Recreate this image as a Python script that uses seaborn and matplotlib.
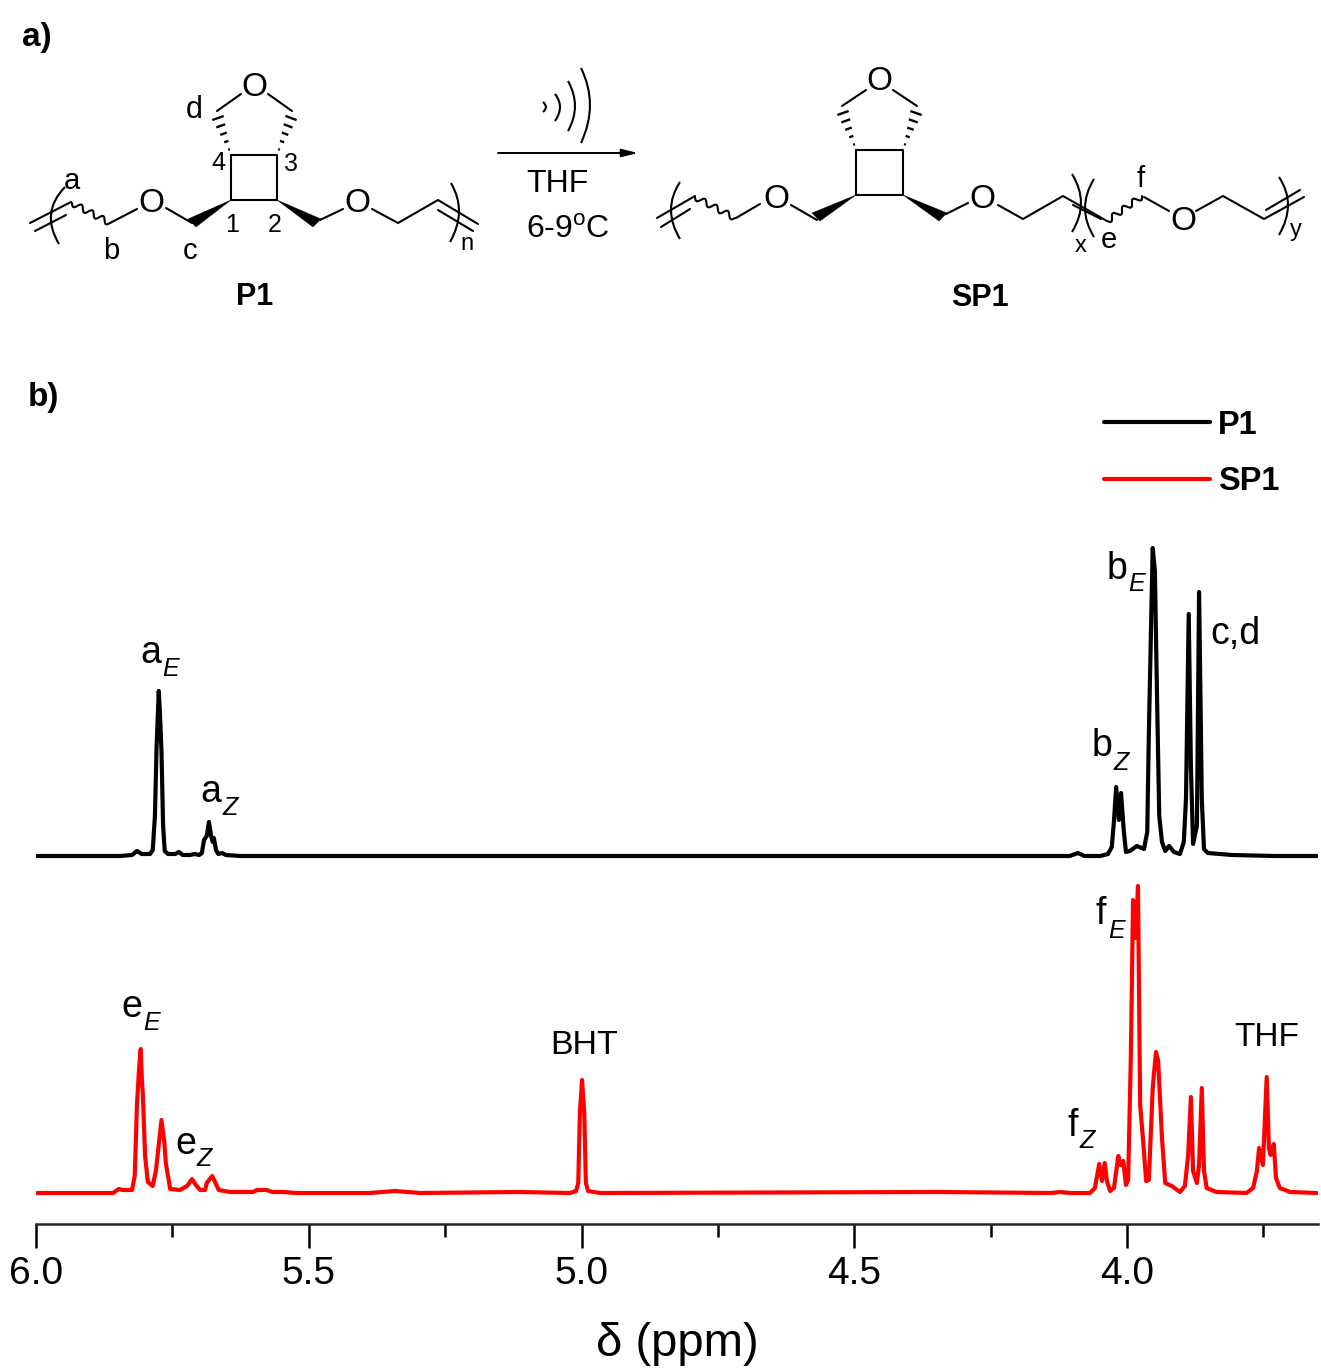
import numpy as np
import pandas as pd
import matplotlib
matplotlib.use("Agg")
import matplotlib.pyplot as plt
from matplotlib.path import Path
from matplotlib.patches import PathPatch, Polygon
import seaborn as sns

# P1 trace, shift in ppm and intensity
p1_ppm = [6.000, 5.846, 5.824, 5.815, 5.806, 5.791, 5.786, 5.782, 5.779, 5.776, 5.775, 5.773, 5.770,
          5.767, 5.764, 5.758, 5.745, 5.738, 5.731, 5.718, 5.709, 5.701, 5.696, 5.692, 5.687, 5.683,
          5.679, 5.676, 5.674, 5.670, 5.666, 5.659, 5.652, 5.626, 4.105, 4.090, 4.078, 4.049, 4.035,
          4.028, 4.024, 4.020, 4.015, 4.011, 4.006, 4.002, 3.995, 3.982, 3.969, 3.963, 3.960, 3.956,
          3.953, 3.949, 3.945, 3.941, 3.936, 3.930, 3.923, 3.914, 3.903, 3.896, 3.892, 3.887, 3.883,
          3.879, 3.872, 3.868, 3.863, 3.859, 3.852, 3.808, 3.729, 3.652]
p1_int = [0, 0, 1, 5, 2, 2, 6, 40, 109, 150, 165, 145, 105,
          30, 5, 2, 2, 4, 1, 1, 2, 1, 3, 16, 20, 34,
          20, 14, 18, 6, 2, 3, 1, 0, 0, 3, 0, 0, 2,
          9, 35, 69, 36, 63, 25, 4, 5, 10, 7, 24, 124, 230,
          308, 285, 157, 40, 14, 5, 10, 4, 2, 14, 57, 242, 90,
          12, 30, 264, 57, 7, 3, 1, 0, 0]

# SP1 trace
sp1_ppm = [5.998, 5.859, 5.848, 5.841, 5.824, 5.819, 5.815, 5.811, 5.808, 5.806, 5.804, 5.800, 5.795,
           5.786, 5.780, 5.775, 5.770, 5.765, 5.762, 5.754, 5.736, 5.723, 5.714, 5.707, 5.699, 5.690,
           5.687, 5.677, 5.670, 5.665, 5.644, 5.602, 5.595, 5.586, 5.577, 5.567, 5.547, 5.522, 5.388,
           5.342, 5.296, 5.115, 5.021, 5.010, 5.006, 5.003, 4.999, 4.995, 4.992, 4.988, 4.966, 4.346,
           4.141, 4.122, 4.104, 4.068, 4.059, 4.051, 4.046, 4.041, 4.037, 4.031, 4.024, 4.016, 4.012,
           4.007, 4.002, 3.998, 3.993, 3.989, 3.984, 3.980, 3.976, 3.971, 3.965, 3.960, 3.953, 3.947,
           3.943, 3.936, 3.930, 3.918, 3.903, 3.894, 3.888, 3.883, 3.879, 3.872, 3.868, 3.863, 3.859,
           3.854, 3.836, 3.781, 3.769, 3.762, 3.758, 3.751, 3.744, 3.740, 3.737, 3.731, 3.727, 3.720,
           3.701, 3.652]
sp1_int = [0, 0, 4, 3, 3, 17, 87, 125, 144, 115, 97, 37, 11,
           7, 23, 48, 73, 52, 30, 4, 3, 7, 14, 8, 3, 3,
           10, 17, 9, 3, 1, 1, 3, 3, 3, 1, 1, 0, 0,
           2, 0, 1, 0, 2, 10, 80, 113, 80, 10, 2, 0, 1,
           0, 1, 0, 0, 5, 29, 12, 30, 12, 2, 5, 37, 28,
           32, 8, 13, 138, 293, 255, 307, 88, 55, 12, 13, 105, 141,
           132, 55, 10, 7, 1, 7, 38, 96, 22, 10, 28, 105, 22,
           5, 1, 0, 5, 22, 45, 28, 116, 45, 38, 49, 15, 5,
           1, 0]

series_names = ["P1", "SP1"]
series_colors = ["black", "#ff0000"]
stack_offsets = [368, 31]
major_ticks = [6.0, 5.5, 5.0, 4.5, 4.0]
minor_ticks = [5.75, 5.25, 4.75, 4.25, 3.75]

# peak labels: base text, x, baseline y, subscript, x, baseline y (figure pixels)
peak_labels = [("a", 140, 663, "E", 162, 676), ("a", 200, 802, "Z", 222, 815),
               ("b", 1107, 579, "E", 1128, 591), ("b", 1092, 756, "Z", 1113, 770),
               ("e", 121, 1017, "E", 143, 1030), ("e", 175, 1154, "Z", 196, 1166),
               ("f", 1096, 924, "E", 1108, 938), ("f", 1067, 1136, "Z", 1079, 1148)]

W, H = 1321, 1371
sns.set_theme(style="ticks")
plt.rcParams["font.family"] = ["Liberation Sans", "DejaVu Sans"]
plt.rcParams["mathtext.fontset"] = "custom"
plt.rcParams["mathtext.rm"] = "Liberation Sans"

fig = plt.figure(figsize=(W / 100, H / 100), dpi=100, facecolor="white")
ax = fig.add_axes([36 / W, (H - 1224) / H, (1318 - 36) / W, 824 / H])

for name, color, off, ppm, vals in zip(series_names, series_colors, stack_offsets,
                                       [p1_ppm, sp1_ppm], [p1_int, sp1_int]):
    df = pd.DataFrame({"ppm": ppm, "intensity": np.array(vals) + off})
    sns.lineplot(data=df, x="ppm", y="intensity", color=color, lw=3.0, label=name,
                 estimator=None, sort=False, ax=ax, solid_joinstyle="round")

ax.set_xlim(6.0, 3.65)
ax.set_ylim(0, 824)
ax.patch.set_visible(False)
sns.despine(ax=ax, left=True)
ax.spines["bottom"].set_linewidth(1.8)
ax.set_yticks([])
ax.set_ylabel("")
ax.set_xticks(major_ticks)
ax.set_xticklabels([f"{t:.1f}" for t in major_ticks])
ax.set_xticks(minor_ticks, minor=True)
ax.tick_params(axis="x", which="major", length=17, width=1.8, labelsize=28, pad=6, color="black", labelcolor="black")
ax.tick_params(axis="x", which="minor", length=9, width=1.8, color="black")
ax.set_xlabel("δ (ppm)", fontsize=34, labelpad=22, color="black")

leg = ax.legend(loc="upper left", bbox_to_anchor=(1068 / 1282, 0.988), frameon=False, handlelength=3.25,
                labelspacing=0.78, handletextpad=0.25, borderaxespad=0, borderpad=0,
                prop={"weight": "bold", "size": 23.5})
for t in leg.get_texts():
    t.set_color("black")
for line in leg.get_lines():
    line.set_linewidth(3.0)

# scheme and labels live on a pixel overlay
ov = fig.add_axes([0, 0, 1, 1], zorder=5)
ov.set_xlim(0, W)
ov.set_ylim(H, 0)
ov.axis("off")
ov.patch.set_visible(False)

BOND = 1.5


def txt(x, y, s, size=22, **kw):
    kw.setdefault("ha", "left")
    kw.setdefault("va", "baseline")
    ov.text(x, y, s, fontsize=size, color="black", **kw)


def bonds(*pts):
    xs, ys = zip(*pts)
    ov.plot(xs, ys, color="black", lw=BOND, solid_capstyle="round")


def paren(x0, y0, xm, ym, x1, y1, lw=BOND):
    cx, cy = 2 * xm - (x0 + x1) / 2, 2 * ym - (y0 + y1) / 2
    ov.add_patch(PathPatch(Path([(x0, y0), (cx, cy), (x1, y1)], [Path.MOVETO, Path.CURVE3, Path.CURVE3]),
                           fc="none", ec="black", lw=lw))


def wavy(x0, y0, x1, y1, waves=3.5, amp=3):
    t = np.linspace(0, 1, 80)
    dx, dy = x1 - x0, y1 - y0
    n = np.hypot(dx, dy)
    s = amp * np.sin(2 * np.pi * waves * t)
    ov.plot(x0 + dx * t - dy / n * s, y0 + dy * t + dx / n * s, color="black", lw=BOND)


def hashed(x0, y0, x1, y1, n=5, wmax=6):
    dx, dy = x1 - x0, y1 - y0
    L = np.hypot(dx, dy)
    for f in np.linspace(0.15, 1, n):
        cx, cy, w = x0 + dx * f, y0 + dy * f, wmax * f
        ov.plot([cx - dy / L * w, cx + dy / L * w], [cy + dx / L * w, cy - dx / L * w],
                color="black", lw=BOND + 0.2, solid_capstyle="butt")


def wedge(tip, a, b):
    ov.add_patch(Polygon([tip, a, b], closed=True, fc="black", ec="black", lw=0.3))


def atom(x, y):
    txt(x, y + 2, "O", size=24, ha="center", va="center")


# P1
txt(22, 46, "a)", size=24, weight="bold")
txt(28, 406, "b)", size=24, weight="bold")
bonds((231, 155), (277, 155), (277, 200), (231, 200), (231, 155))
hashed(231, 155, 218, 118)
hashed(277, 155, 291, 118)
bonds((217, 111), (241, 94))
bonds((268, 94), (292, 111))
atom(254, 85)
bonds((30, 223), (71, 202))
bonds((35, 231), (66, 215))
wavy(72, 203, 110, 223)
bonds((110, 223), (137, 209))
atom(151, 202)
bonds((166, 208), (192, 223))
wedge((231, 200), (188, 219), (196, 227))
wedge((277, 200), (313, 227), (321, 219))
bonds((320, 220), (343, 209))
atom(357, 202)
bonds((372, 209), (398, 223), (438, 200), (478, 224))
bonds((438, 210), (473, 231))
paren(65, 187, 51, 214, 59, 244)
paren(451, 183, 459, 212, 450, 242)
for lab, x, y, sz in [("a", 72, 189, 21), ("b", 111, 259, 21), ("c", 190, 259, 21), ("d", 194, 118, 22),
                      ("4", 218, 170, 18), ("3", 291, 171, 18), ("1", 232, 232, 18), ("2", 275, 232, 18),
                      ("n", 467, 250, 17)]:
    txt(x, y, lab, size=sz, ha="center")
txt(255, 305, "P1", size=22, weight="bold", ha="center")

# ultrasound arrow
ov.annotate("", xy=(638, 153), xytext=(498, 153),
            arrowprops=dict(arrowstyle="-|>,head_length=0.8,head_width=0.2", color="black", lw=1.4, shrinkA=0, shrinkB=0))
paren(543, 102, 546, 107, 543, 112)
paren(555, 94, 560, 107, 555, 121)
paren(568, 81, 575, 106, 568, 131)
paren(581, 68, 590, 105, 581, 143)
txt(526, 192, "THF", size=23)
txt(526, 238, "6-9$^{\\mathrm{o}}$C", size=23)

# SP1
bonds((856, 150), (903, 150), (903, 195), (856, 195), (856, 150))
hashed(856, 150, 843, 113)
hashed(903, 150, 916, 113)
bonds((842, 106), (866, 90))
bonds((893, 90), (917, 106))
atom(879, 80)
bonds((657, 218), (695, 196))
bonds((661, 227), (690, 209))
wavy(695, 197, 735, 218)
bonds((736, 218), (760, 204))
atom(776, 197)
bonds((791, 205), (817, 220))
wedge((856, 195), (812, 213), (820, 221))
wedge((903, 195), (939, 221), (947, 213))
bonds((946, 214), (968, 203))
atom(982, 197)
bonds((998, 205), (1023, 219), (1063, 196), (1107, 221))
bonds((1073, 205), (1101, 219))
wavy(1107, 221, 1142, 196)
bonds((1144, 197), (1169, 211))
atom(1183, 220)
bonds((1196, 211), (1223, 196), (1264, 219), (1304, 197))
bonds((1266, 210), (1300, 190))
paren(680, 182, 671, 210, 680, 239)
paren(1072, 174, 1081, 203, 1072, 232)
paren(1094, 179, 1085, 208, 1094, 237)
paren(1279, 177, 1288, 205, 1279, 235)
for lab, x, y, sz in [("x", 1081, 252, 17), ("e", 1109, 248, 21), ("f", 1141, 187, 21), ("y", 1296, 236, 17)]:
    txt(x, y, lab, size=sz, ha="center")
txt(980, 306, "SP1", size=22, weight="bold", ha="center")

# peak labels
for base, bx, by, sub, sx, sy in peak_labels:
    txt(bx, by, base, size=27)
    txt(sx, sy, sub, size=18, style="italic")
txt(1210, 644, "c,d", size=27)
txt(550, 1054, "BHT", size=24.5)
txt(1234, 1046, "THF", size=24)

fig.savefig("out.png", dpi=100, facecolor="white")
